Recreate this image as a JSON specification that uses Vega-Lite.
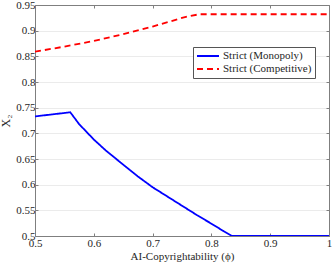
{
  "$schema": "https://vega.github.io/schema/vega-lite/v6.json",
  "width": 294,
  "height": 231,
  "autosize": {"type": "none"},
  "padding": {"left": 35, "top": 5, "right": 3, "bottom": 30},
  "background": "white",
  "config": {
    "view": {"stroke": null},
    "font": "Liberation Serif",
    "axis": {
      "labelFont": "Liberation Serif",
      "labelFontSize": 11,
      "labelColor": "#262626",
      "titleFont": "Liberation Serif",
      "titleFontSize": 11,
      "titleFontWeight": "normal",
      "titleColor": "#262626",
      "domainColor": "#7f7f7f",
      "tickColor": "#7f7f7f",
      "tickSize": -3,
      "gridColor": "#ebebeb",
      "gridWidth": 1
    },
    "legend": {
      "labelFont": "Liberation Serif",
      "labelFontSize": 11,
      "labelColor": "#262626"
    }
  },
  "data": {
    "values": [
      {"phi": 0.5, "x2": 0.733, "series": "Strict (Monopoly)"},
      {"phi": 0.56, "x2": 0.741, "series": "Strict (Monopoly)"},
      {"phi": 0.575, "x2": 0.718, "series": "Strict (Monopoly)"},
      {"phi": 0.6, "x2": 0.688, "series": "Strict (Monopoly)"},
      {"phi": 0.62, "x2": 0.667, "series": "Strict (Monopoly)"},
      {"phi": 0.65, "x2": 0.639, "series": "Strict (Monopoly)"},
      {"phi": 0.675, "x2": 0.616, "series": "Strict (Monopoly)"},
      {"phi": 0.7, "x2": 0.595, "series": "Strict (Monopoly)"},
      {"phi": 0.725, "x2": 0.577, "series": "Strict (Monopoly)"},
      {"phi": 0.75, "x2": 0.559, "series": "Strict (Monopoly)"},
      {"phi": 0.775, "x2": 0.541, "series": "Strict (Monopoly)"},
      {"phi": 0.8, "x2": 0.524, "series": "Strict (Monopoly)"},
      {"phi": 0.82, "x2": 0.51, "series": "Strict (Monopoly)"},
      {"phi": 0.835, "x2": 0.5, "series": "Strict (Monopoly)"},
      {"phi": 1.0, "x2": 0.5, "series": "Strict (Monopoly)"},
      {"phi": 0.5, "x2": 0.859, "series": "Strict (Competitive)"},
      {"phi": 0.55, "x2": 0.869, "series": "Strict (Competitive)"},
      {"phi": 0.6, "x2": 0.88, "series": "Strict (Competitive)"},
      {"phi": 0.65, "x2": 0.893, "series": "Strict (Competitive)"},
      {"phi": 0.7, "x2": 0.908, "series": "Strict (Competitive)"},
      {"phi": 0.73, "x2": 0.918, "series": "Strict (Competitive)"},
      {"phi": 0.75, "x2": 0.925, "series": "Strict (Competitive)"},
      {"phi": 0.765, "x2": 0.929, "series": "Strict (Competitive)"},
      {"phi": 0.78, "x2": 0.932, "series": "Strict (Competitive)"},
      {"phi": 1.0, "x2": 0.932, "series": "Strict (Competitive)"}
    ]
  },
  "layer": [
    {
      "mark": {"type": "line", "strokeWidth": 1.8, "clip": true},
      "encoding": {
        "x": {
          "field": "phi", "type": "quantitative",
          "scale": {"domain": [0.5, 1], "nice": false},
          "axis": {"values": [0.5, 0.6, 0.7, 0.8, 0.9, 1], "format": "~g", "grid": false, "title": "AI-Copyrightability (ϕ)", "labelPadding": 4, "titlePadding": 2, "labelFlush": false}
        },
        "y": {
          "field": "x2", "type": "quantitative",
          "scale": {"domain": [0.5, 0.95], "nice": false},
          "axis": {"values": [0.5, 0.55, 0.6, 0.65, 0.7, 0.75, 0.8, 0.85, 0.9, 0.95], "format": "~g", "grid": true, "title": "X₂", "titleFontSize": 12, "labelPadding": 3, "titlePadding": 3, "labelFlush": false}
        },
        "color": {
          "field": "series", "type": "nominal",
          "scale": {"domain": ["Strict (Monopoly)", "Strict (Competitive)"], "range": ["#0000ff", "#ff0000"]},
          "legend": {"title": null, "orient": "none", "legendX": 158, "legendY": 42, "symbolType": "stroke", "symbolSize": 484, "symbolStrokeWidth": 2, "strokeColor": "#555555", "fillColor": "white", "padding": 3, "rowPadding": 1, "clipHeight": 12, "labelOffset": 3}
        },
        "strokeDash": {
          "field": "series", "type": "nominal",
          "scale": {"domain": ["Strict (Monopoly)", "Strict (Competitive)"], "range": [[1, 0], [6, 4]]},
          "legend": {"title": null, "orient": "none", "legendX": 158, "legendY": 42, "symbolType": "stroke", "symbolSize": 484, "symbolStrokeWidth": 2, "strokeColor": "#555555", "fillColor": "white", "padding": 3, "rowPadding": 1, "clipHeight": 12, "labelOffset": 3}
        }
      }
    },
    {
      "mark": {"type": "point", "opacity": 0},
      "encoding": {
        "x": {
          "field": "phi", "type": "quantitative",
          "scale": {"domain": [0.5, 1], "nice": false},
          "axis": {"orient": "top", "values": [0.5, 0.6, 0.7, 0.8, 0.9, 1], "labels": false, "grid": false, "title": null}
        },
        "y": {
          "field": "x2", "type": "quantitative",
          "scale": {"domain": [0.5, 0.95], "nice": false},
          "axis": {"orient": "right", "values": [0.5, 0.55, 0.6, 0.65, 0.7, 0.75, 0.8, 0.85, 0.9, 0.95], "labels": false, "grid": false, "title": null}
        }
      }
    }
  ],
  "resolve": {"axis": {"x": "independent", "y": "independent"}}
}
